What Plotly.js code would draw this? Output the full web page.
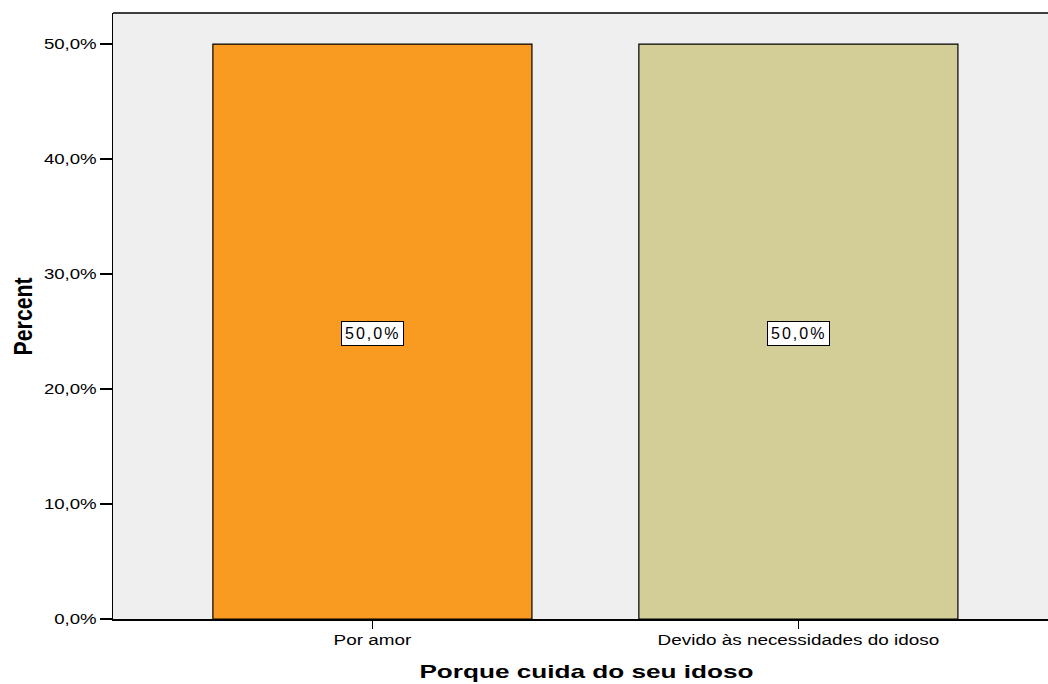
<!DOCTYPE html>
<html><head><meta charset="utf-8">
<script src="https://cdn.plot.ly/plotly-3.0.1.min.js"></script>
<style>
html,body{margin:0;padding:0;background:#fff}
.annotation-text{letter-spacing:2px}
</style>
</head><body><div id="chart" style="width:1048px;height:684px"></div>
<script>
var categories = ["Por amor", "Devido às necessidades do idoso"];
var percents = [50.0, 50.0];
var barColors = ["#F99B20", "#D3CE98"];
var yTicks = [0, 10, 20, 30, 40, 50];
var xTitle = "Porque cuida do seu idoso";
var yTitle = "Percent";

var fmt = function(v){ return v.toFixed(1).replace('.', ',') + '%'; };

var trace = {
  type: 'bar', x: categories, y: percents,
  marker: {color: barColors, line: {color: '#000', width: 1.2}},
  width: 0.749, hoverinfo: 'none'
};
var annotations = categories.map(function(c, i){
  return {x: c, y: percents[i]/2, xref: 'x', yref: 'y', text: fmt(percents[i]), showarrow: false, yshift: -2,
    font: {family: 'Liberation Sans, Arial', size: 16, color: '#000'},
    bgcolor: '#fff', bordercolor: '#000', borderwidth: 1, borderpad: 3};
});
annotations.push({text: xTitle, xref: 'paper', yref: 'paper', x: 0.506, y: -0.086, showarrow: false,
  font: {family: 'Liberation Sans, Arial', size: 19, color: '#000', weight: 'bold'}, xanchor: 'center', yanchor: 'middle'});
annotations.push({text: yTitle, xref: 'paper', yref: 'paper', x: -0.096, y: 0.5, showarrow: false, textangle: -90,
  font: {family: 'Liberation Sans, Arial', size: 25, color: '#000', weight: 'bold'}, xanchor: 'center', yanchor: 'middle'});
var layout = {
  width: 1048, height: 684,
  margin: {l: 113, r: 0, t: 13, b: 65},
  paper_bgcolor: '#fff', plot_bgcolor: '#EFEFEF',
  showlegend: false,
  xaxis: {range: [-0.609, 1.586], showline: true, linecolor: '#000', linewidth: 1.5, ticks: 'outside', ticklen: 8, tickcolor: '#000', tickwidth: 1.5,
    tickfont: {family: 'Liberation Sans, Arial', size: 14, color: '#000'}, showgrid: false, zeroline: false},
  yaxis: {range: [0, 52.7], tickvals: yTicks, ticktext: yTicks.map(fmt), showline: true, mirror: false, linecolor: '#000', linewidth: 1.5,
    ticks: 'outside', ticklen: 12, tickcolor: '#000', tickwidth: 1.5, showgrid: false, zeroline: false,
    tickfont: {family: 'Liberation Sans, Arial', size: 14, color: '#000'}},
  shapes: [{type: 'line', xref: 'paper', yref: 'paper', x0: 0, x1: 1, y0: 1, y1: 1, line: {color: '#000', width: 1.5}}],
  annotations: annotations
};
function stretchEl(t, factor, target){
  var w = t.getComputedTextLength();
  t.setAttribute('textLength', (target || w*factor).toFixed(1));
  t.setAttribute('lengthAdjust', 'spacingAndGlyphs');
}
Plotly.newPlot('chart', [trace], layout, {displayModeBar: false, staticPlot: true}).then(function(){
  document.querySelectorAll('.xtick text').forEach(function(t){ stretchEl(t, 1.35); });
  document.querySelectorAll('.ytick text').forEach(function(t){ stretchEl(t, 1.33); });
  var ann = document.querySelectorAll('.annotation');
  ann.forEach(function(a, i){
    var t = a.querySelector('.annotation-text');
    if (!t) return;
    if (i === 2) { t.style.letterSpacing = '0px'; stretchEl(t, 1, 334); }
    if (i === 3) { t.style.letterSpacing = '0px'; stretchEl(t, 1, 78); }
  });
});
</script></body></html>
